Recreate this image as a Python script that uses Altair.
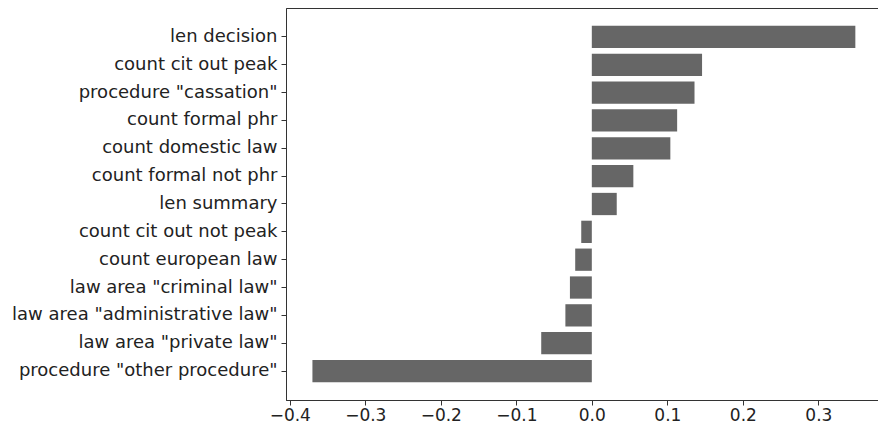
import altair as alt
import pandas as pd

features = [
    "len decision",
    "count cit out peak",
    'procedure "cassation"',
    "count formal phr",
    "count domestic law",
    "count formal not phr",
    "len summary",
    "count cit out not peak",
    "count european law",
    'law area "criminal law"',
    'law area "administrative law"',
    'law area "private law"',
    'procedure "other procedure"',
]
importance = [0.349, 0.146, 0.136, 0.113, 0.104, 0.055, 0.033,
              -0.014, -0.022, -0.029, -0.035, -0.067, -0.370]
x_ticks = [-0.4, -0.3, -0.2, -0.1, 0.0, 0.1, 0.2, 0.3]

df = pd.DataFrame({"feature": features, "value": importance})

FONT = "DejaVu Sans"

chart = alt.Chart(df).mark_bar(color="#666666").encode(
    x=alt.X("value:Q",
            scale=alt.Scale(domain=[-0.405, 0.379], nice=False, zero=False),
            axis=alt.Axis(title=None, values=x_ticks, format=".1f", grid=False,
                          tickSize=5, labelPadding=2, labelFontSize=17)),
    y=alt.Y("feature:N", sort=features,
            scale=alt.Scale(paddingInner=0.2, paddingOuter=0.64),
            axis=alt.Axis(title=None, grid=False, tickSize=5, labelPadding=4,
                          labelLimit=400)),
).properties(
    width=592,
    height=392,
    padding={"left": 278, "top": 0, "right": 0, "bottom": 24},
    autosize=alt.AutoSizeParams(type="none"),
).configure_view(
    stroke="#333333", strokeWidth=1
).configure_axis(
    labelFont=FONT, labelFontSize=18, labelColor="#222222",
    domainColor="#333333", tickColor="#333333", domainWidth=1
)

chart.save("out.html", embed_options={"renderer": "svg", "actions": False})
